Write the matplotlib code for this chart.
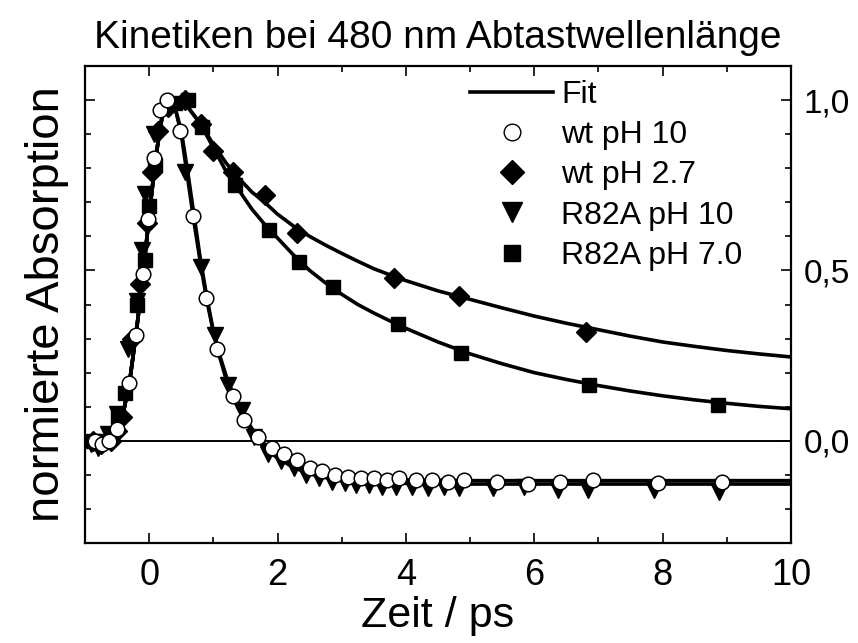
import matplotlib
matplotlib.use("Agg")
import matplotlib.pyplot as plt
from matplotlib.ticker import MultipleLocator, FuncFormatter
from matplotlib.lines import Line2D

plt.rcParams['font.family'] = ['Liberation Sans', 'DejaVu Sans']

# ---- measured kinetics (time in ps, normalised absorption) ----
wt10_t = [-0.85, -0.73, -0.62, -0.5, -0.31, -0.2, -0.1, -0.02, 0.08, 0.17, 0.28,
          0.48, 0.68, 0.89, 1.06, 1.3, 1.48, 1.7, 1.91, 2.1, 2.31, 2.5, 2.7, 2.9,
          3.1, 3.3, 3.5, 3.7, 3.9, 4.16, 4.4, 4.65, 4.9, 5.42, 5.9, 6.4, 6.92,
          7.92, 8.92]
wt10_a = [0.0, -0.01, 0.0, 0.035, 0.17, 0.31, 0.49, 0.65, 0.83, 0.97, 1.0,
          0.91, 0.66, 0.42, 0.27, 0.13, 0.06, 0.01, -0.02, -0.04, -0.055, -0.08,
          -0.09, -0.10, -0.105, -0.11, -0.11, -0.115, -0.11, -0.115, -0.115,
          -0.12, -0.115, -0.12, -0.127, -0.12, -0.115, -0.123, -0.12]

wt27_t = [-0.88, -0.75, -0.6, -0.5, -0.43, -0.26, -0.14, -0.04, 0.04, 0.14, 0.3,
          0.56, 0.8, 1.0, 1.31, 1.81, 2.31, 3.81, 4.83, 6.81]
wt27_a = [0.0, -0.01, 0.0, 0.03, 0.07, 0.30, 0.46, 0.64, 0.79, 0.91, 0.98,
          1.0, 0.93, 0.85, 0.79, 0.72, 0.61, 0.478, 0.425, 0.32]

r10_t = [-0.9, -0.8, -0.64, -0.5, -0.33, -0.19, -0.11, -0.06, 0.07, 0.33, 0.56,
         0.8, 1.03, 1.23, 1.45, 1.63, 1.85, 2.05, 2.25, 2.45, 2.65, 2.85, 3.05,
         3.22, 3.42, 3.62, 3.84, 4.1, 4.34, 4.6, 4.83, 5.36, 5.84, 6.37, 6.84,
         7.86, 8.88]
r10_a = [-0.01, -0.02, 0.02, 0.08, 0.27, 0.41, 0.56, 0.725, 0.90, 0.98, 0.79,
         0.51, 0.31, 0.165, 0.09, 0.01, -0.04, -0.06, -0.08, -0.10, -0.11, -0.12,
         -0.125, -0.13, -0.13, -0.135, -0.135, -0.135, -0.14, -0.135, -0.14,
         -0.14, -0.135, -0.145, -0.145, -0.145, -0.15]

r70_t = [-0.88, -0.7, -0.6, -0.48, -0.375, -0.19, -0.06, 0.0, 0.09, 0.4, 0.6,
         0.83, 1.34, 1.86, 2.34, 2.86, 3.87, 4.86, 6.86, 8.87]
r70_a = [0.0, 0.0, 0.01, 0.07, 0.14, 0.40, 0.53, 0.69, 0.81, 0.99, 1.0,
         0.92, 0.75, 0.62, 0.525, 0.45, 0.342, 0.257, 0.165, 0.106]

# ---- fit curves ----
rise_t = [-1.0, -0.8, -0.7, -0.6, -0.5, -0.4, -0.3, -0.2, -0.1, 0.0, 0.1, 0.2]
rise_a = [0.0, 0.0, 0.003, 0.012, 0.035, 0.085, 0.18, 0.32, 0.48, 0.66, 0.83, 0.95]

fit_wt10_t = rise_t + [0.3, 0.4, 0.5, 0.6, 0.7, 0.8, 0.9, 1.0, 1.1, 1.2, 1.3, 1.4,
                       1.5, 1.6, 1.7, 1.8, 1.9, 2.0, 2.2, 2.4, 2.6, 2.8, 3.0, 3.25,
                       3.5, 4.0, 5.0, 10.0]
fit_wt10_a = rise_a + [1.0, 0.98, 0.90, 0.77, 0.64, 0.52, 0.41, 0.32, 0.25, 0.19,
                       0.14, 0.10, 0.066, 0.036, 0.012, -0.01, -0.028, -0.042,
                       -0.065, -0.08, -0.092, -0.10, -0.106, -0.11, -0.112,
                       -0.115, -0.117, -0.117]

fit_r10_t = rise_t + [0.3, 0.4, 0.5, 0.6, 0.7, 0.8, 0.9, 1.0, 1.1, 1.2, 1.3, 1.4,
                      1.5, 1.6, 1.7, 1.8, 1.9, 2.0, 2.2, 2.4, 2.6, 2.8, 3.0, 3.25,
                      3.5, 4.0, 5.0, 10.0]
fit_r10_a = rise_a + [1.0, 0.98, 0.91, 0.79, 0.66, 0.53, 0.42, 0.32, 0.245, 0.18,
                      0.13, 0.09, 0.055, 0.025, 0.0, -0.02, -0.037, -0.05, -0.073,
                      -0.09, -0.102, -0.11, -0.116, -0.12, -0.122, -0.125, -0.127,
                      -0.127]

fit_wt27_t = rise_t + [0.3, 0.4, 0.5, 0.6, 0.8, 1.0, 1.2, 1.4, 1.6, 1.8, 2.0, 2.25,
                       2.5, 2.75, 3.0, 3.25, 3.5, 3.75, 4.0, 4.5, 5.0, 5.5, 6.0,
                       6.5, 7.0, 7.5, 8.0, 8.5, 9.0, 9.5, 10.0]
fit_wt27_a = rise_a + [0.99, 1.0, 1.0, 0.98, 0.93, 0.87, 0.815, 0.77, 0.73, 0.70,
                       0.665, 0.63, 0.60, 0.574, 0.55, 0.527, 0.505, 0.487, 0.47,
                       0.44, 0.415, 0.39, 0.366, 0.345, 0.326, 0.307, 0.29, 0.277,
                       0.265, 0.255, 0.246]

fit_r70_t = rise_t + [0.3, 0.4, 0.5, 0.6, 0.8, 1.0, 1.2, 1.4, 1.6, 1.8, 2.0, 2.25,
                      2.5, 2.75, 3.0, 3.25, 3.5, 3.75, 4.0, 4.5, 5.0, 5.5, 6.0,
                      6.5, 7.0, 7.5, 8.0, 8.5, 9.0, 9.5, 10.0]
fit_r70_a = rise_a + [0.99, 1.0, 1.0, 0.98, 0.93, 0.86, 0.79, 0.735, 0.68, 0.635,
                      0.595, 0.545, 0.50, 0.463, 0.43, 0.4, 0.375, 0.352, 0.33,
                      0.29, 0.255, 0.226, 0.2, 0.18, 0.162, 0.146, 0.132, 0.12,
                      0.11, 0.101, 0.094]

labels = ["Fit", "wt pH 10", "wt pH 2.7", "R82A pH 10", "R82A pH 7.0"]

fig = plt.figure(figsize=(8.58, 6.43), dpi=100)
ax = fig.add_axes([85 / 858, 1 - 543 / 643, (791 - 85) / 858, (543 - 66) / 643])

ax.axhline(0.0, color="black", lw=1.4, zorder=1)

fit_kw = dict(color="black", lw=2.6, zorder=2, solid_joinstyle="round")
ax.plot(fit_wt10_t, fit_wt10_a, **fit_kw)
ax.plot(fit_r10_t, fit_r10_a, **fit_kw)
ax.plot(fit_wt27_t, fit_wt27_a, **fit_kw)
ax.plot(fit_r70_t, fit_r70_a, **fit_kw)

ax.plot(r70_t, r70_a, ls="none", marker="s", ms=10, mfc="black", mec="black", zorder=3)
ax.plot(wt27_t, wt27_a, ls="none", marker="D", ms=10, mfc="black", mec="black", zorder=3)
ax.plot(r10_t, r10_a, ls="none", marker="v", ms=11.5, mfc="black", mec="black", zorder=4)
ax.plot(wt10_t, wt10_a, ls="none", marker="o", ms=10.5, mfc="white", mec="black",
        mew=1.1, zorder=5)

ax.set_xlim(-1, 10)
ax.set_ylim(-0.3, 1.1)

ax.xaxis.set_major_locator(MultipleLocator(2))
ax.xaxis.set_minor_locator(MultipleLocator(1))
ax.yaxis.set_major_locator(MultipleLocator(0.5))
ax.yaxis.set_minor_locator(MultipleLocator(0.1))
ax.yaxis.set_major_formatter(FuncFormatter(lambda v, p: f"{v:.1f}".replace(".", ",")))

ax.tick_params(which="both", direction="in", top=True, right=True, width=1.2)
ax.tick_params(which="major", length=7)
ax.tick_params(which="minor", length=4)
ax.tick_params(axis="y", labelleft=False, labelright=True, labelsize=24, pad=9)
ax.tick_params(axis="x", labelsize=26, pad=11)
for s in ax.spines.values():
    s.set_linewidth(1.6)

ax.set_title("Kinetiken bei 480 nm Abtastwellenlänge", fontsize=28, pad=13)
ax.set_xlabel("Zeit / ps", fontsize=31, labelpad=2)
ax.set_ylabel("normierte Absorption", fontsize=34, labelpad=8)

handles = [
    Line2D([], [], color="black", lw=2.6),
    Line2D([], [], ls="none", marker="o", ms=12, mfc="white", mec="black", mew=1.0),
    Line2D([], [], ls="none", marker="D", ms=12, mfc="black", mec="black"),
    Line2D([], [], ls="none", marker="v", ms=14, mfc="black", mec="black"),
    Line2D([], [], ls="none", marker="s", ms=11, mfc="black", mec="black"),
]
ax.legend(handles, labels, loc="upper left", bbox_to_anchor=(470 / 858, 1 - 80 / 643),
          bbox_transform=fig.transFigure, frameon=False, fontsize=23,
          handlelength=2.6, handletextpad=0.25, labelspacing=0.32, borderpad=0,
          borderaxespad=0)

fig.savefig("out.png", dpi=100)
